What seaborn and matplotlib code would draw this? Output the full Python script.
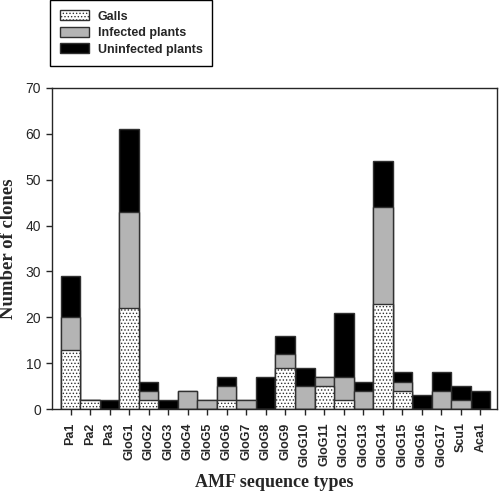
import numpy as np
import pandas as pd
import matplotlib
matplotlib.use("Agg")
import matplotlib.pyplot as plt
from matplotlib.patches import Patch
import seaborn as sns

# AMF sequence types and clone counts per sample origin
types = ["Pa1", "Pa2", "Pa3", "GloG1", "GloG2", "GloG3", "GloG4", "GloG5", "GloG6",
         "GloG7", "GloG8", "GloG9", "GloG10", "GloG11", "GloG12", "GloG13", "GloG14",
         "GloG15", "GloG16", "GloG17", "Scu1", "Aca1"]
galls      = [13, 2, 0, 22, 2, 0, 0, 0, 2, 0, 0, 9, 0, 5, 2, 0, 23, 4, 0, 0, 0, 0]
infected   = [7, 0, 0, 21, 2, 0, 4, 2, 3, 2, 0, 3, 5, 2, 5, 4, 21, 2, 0, 4, 2, 0]
uninfected = [9, 0, 2, 18, 2, 2, 0, 0, 2, 0, 7, 4, 4, 0, 14, 2, 10, 2, 3, 4, 3, 4]

sns.set_style("ticks")
plt.rcParams["font.family"] = ["Liberation Sans", "DejaVu Sans"]
plt.rcParams["hatch.color"] = "#8a8a8a"
plt.rcParams["hatch.linewidth"] = 0.6

df = pd.DataFrame({"type": types, "galls": galls, "infected": infected,
                   "uninfected": uninfected})
df["lvl2"] = df["galls"] + df["infected"]
df["total"] = df["lvl2"] + df["uninfected"]

fig = plt.figure(figsize=(5, 4.96), dpi=100)
ax = fig.add_axes([0.104, 0.175, 0.89, 0.648])

edge = "#303030"
# stacked look: draw cumulative totals back to front
sns.barplot(data=df, x="type", y="total", color="black", width=1.0,
            edgecolor=edge, linewidth=1, saturation=1, ax=ax)
sns.barplot(data=df, x="type", y="lvl2", color="#b4b4b4", width=1.0,
            edgecolor=edge, linewidth=1, saturation=1, ax=ax)
sns.barplot(data=df, x="type", y="galls", color="white", width=1.0,
            edgecolor=edge, linewidth=1, saturation=1, ax=ax)
n = len(types)
for p in ax.patches[2 * n:]:
    p.set_hatch(".....")

ax.set_xlim(-0.95, 21.85)
ax.set_ylim(0, 70)
ax.set_yticks(range(0, 71, 10))
for s in ax.spines.values():
    s.set_linewidth(1)
ax.tick_params(axis="x", rotation=90, labelsize=9, length=4.5, width=1, pad=5)
ax.tick_params(axis="y", labelsize=10, length=4.5, width=1)
for t in ax.get_xticklabels():
    t.set_fontweight("bold")

ax.set_xlabel("AMF sequence types", family="Liberation Serif", fontsize=13,
              fontweight="bold", labelpad=5)
ax.set_ylabel("Number of clones", family="Liberation Serif", fontsize=13.5,
              fontweight="bold", labelpad=6)

handles = [Patch(facecolor="white", edgecolor=edge, hatch=".....", label="Galls"),
           Patch(facecolor="#b4b4b4", edgecolor=edge, label="Infected plants"),
           Patch(facecolor="black", edgecolor=edge, label="Uninfected plants")]
leg = fig.legend(handles=handles, loc="upper left", bbox_to_anchor=(0.1, 0.999),
                 borderaxespad=0, prop={"weight": "bold", "size": 9},
                 fancybox=False, edgecolor="black", framealpha=1,
                 handlelength=2.3, handleheight=0.8, labelspacing=0.35,
                 borderpad=0.8, handletextpad=0.7)
leg.get_frame().set_linewidth(1)

fig.savefig("out.png", dpi=100)
